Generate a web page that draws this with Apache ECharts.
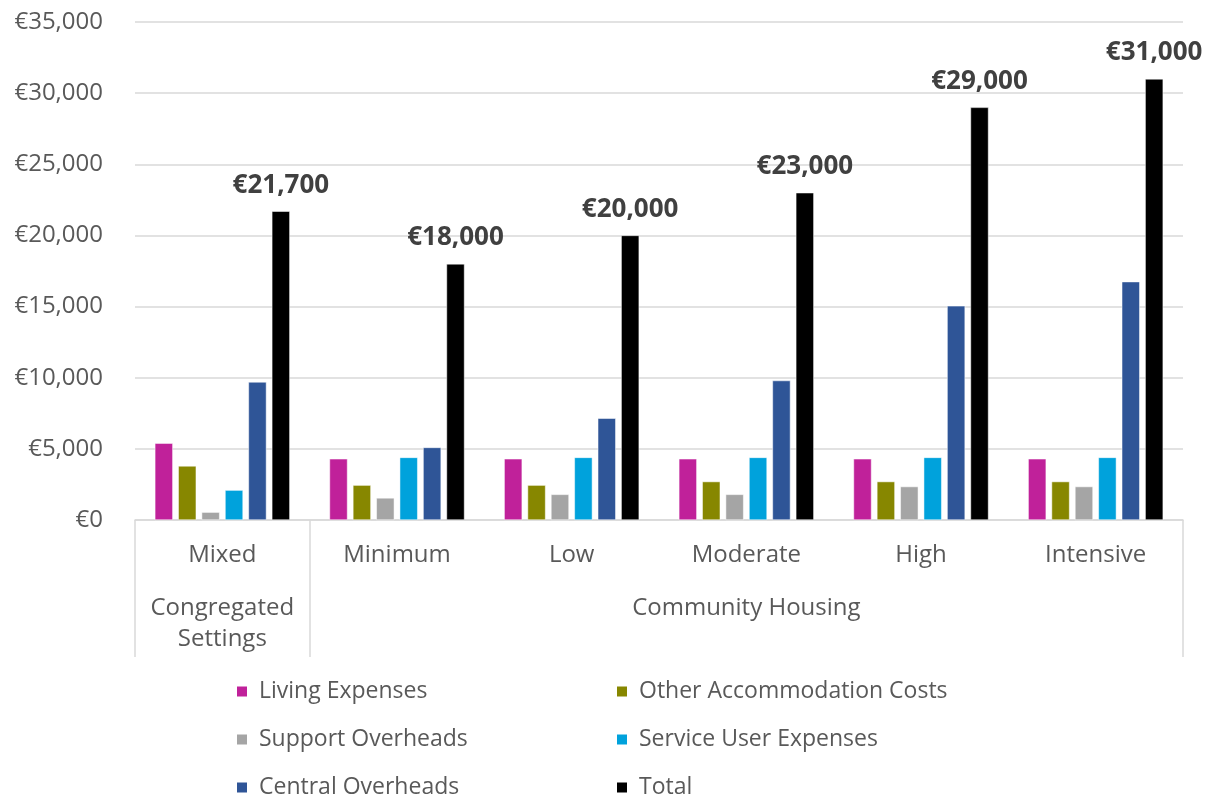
<!DOCTYPE html>
<html>
<head>
<meta charset="utf-8">
<script src="https://cdn.jsdelivr.net/npm/echarts@6/dist/echarts.min.js"></script>
<style>
  html, body { margin: 0; padding: 0; background: #fff; }
  #chart { width: 1207px; height: 800px; }
</style>
</head>
<body>
<div id="chart"></div>
<script>
const categories = ['Mixed', 'Minimum', 'Low', 'Moderate', 'High', 'Intensive']
const groupNames = ['Congregated\nSettings', 'Community Housing']
const groupSizes = [1, 5]

const livingExpenses = [5400, 4300, 4300, 4300, 4300, 4300]
const otherAccommodation = [3800, 2450, 2450, 2700, 2700, 2700]
const supportOverheads = [550, 1550, 1800, 1800, 2350, 2350]
const serviceUserExpenses = [2100, 4400, 4400, 4400, 4400, 4400]
const centralOverheads = [9700, 5100, 7150, 9800, 15050, 16750]
const totals = [21700, 18000, 20000, 23000, 29000, 31000]

const yTicks = [0, 5000, 10000, 15000, 20000, 25000, 30000, 35000]

const seriesDefs = [
  { name: 'Living Expenses', data: livingExpenses, color: '#c0219a' },
  { name: 'Other Accommodation Costs', data: otherAccommodation, color: '#878700' },
  { name: 'Support Overheads', data: supportOverheads, color: '#a5a5a5' },
  { name: 'Service User Expenses', data: serviceUserExpenses, color: '#00a2dc' },
  { name: 'Central Overheads', data: centralOverheads, color: '#2f5597' },
  { name: 'Total', data: totals, color: '#000000' }
]

// group boundaries and label centres on the 0..n scale of the category axis
const groupBounds = [0]
const groupCentres = []
groupSizes.forEach((s, i) => {
  const start = groupBounds[i]
  groupBounds.push(start + s)
  groupCentres.push(start + s / 2)
})

const font = '"Open Sans", Lato, sans-serif'
const textColor = '#595959'
const fmtEuro = v => '€' + v.toLocaleString('en-US')

const chart = echarts.init(document.getElementById('chart'))

chart.setOption({
  animation: false,
  textStyle: { fontFamily: font },
  grid: { left: 135, right: 24, top: 22, bottom: 280, containLabel: false },
  legend: {
    left: 235,
    top: 680,
    padding: 0,
    width: 800,
    itemWidth: 12,
    itemHeight: 12,
    itemGap: 25,
    icon: 'rect',
    textStyle: {
      color: textColor, fontSize: 23, fontFamily: font,
      width: 331, lineHeight: 23, padding: [0, 0, 0, 6]
    },
    data: seriesDefs.map(s => s.name)
  },
  xAxis: [
    {
      type: 'category',
      position: 'bottom',
      data: categories,
      axisLine: { lineStyle: { color: '#d9d9d9', width: 1.5 } },
      axisTick: { show: false },
      axisLabel: { color: textColor, fontSize: 24, margin: 23, interval: 0 }
    },
    {
      type: 'value',
      position: 'bottom',
      min: 0,
      max: categories.length,
      axisLine: { show: false },
      splitLine: { show: false },
      axisTick: {
        show: true,
        length: 137,
        customValues: groupBounds,
        lineStyle: { color: '#d9d9d9', width: 1.5 }
      },
      axisLabel: {
        color: textColor,
        fontSize: 24,
        margin: 73,
        lineHeight: 31,
        customValues: groupCentres,
        formatter: v => groupNames[groupCentres.indexOf(v)] || ''
      }
    }
  ],
  yAxis: {
    type: 'value',
    min: 0,
    max: 35000,
    interval: 5000,
    axisLine: { show: false },
    axisTick: { show: false },
    splitLine: { lineStyle: { color: '#d9d9d9', width: 1.5 } },
    axisLabel: {
      color: textColor,
      fontSize: 24,
      margin: 32,
      customValues: yTicks,
      formatter: fmtEuro
    }
  },
  series: seriesDefs.map((s, i) => ({
    name: s.name,
    type: 'bar',
    xAxisIndex: 0,
    data: s.data,
    barWidth: 18,
    barGap: '30%',
    itemStyle: { color: s.color, borderColor: '#ffffff', borderWidth: 0.5 },
    label: i === seriesDefs.length - 1 ? {
      show: true,
      position: 'top',
      distance: 13,
      color: '#404040',
      fontSize: 26,
      fontWeight: 'bold',
      fontFamily: font,
      formatter: p => fmtEuro(p.value)
    } : { show: false }
  }))
})
</script>
</body>
</html>
